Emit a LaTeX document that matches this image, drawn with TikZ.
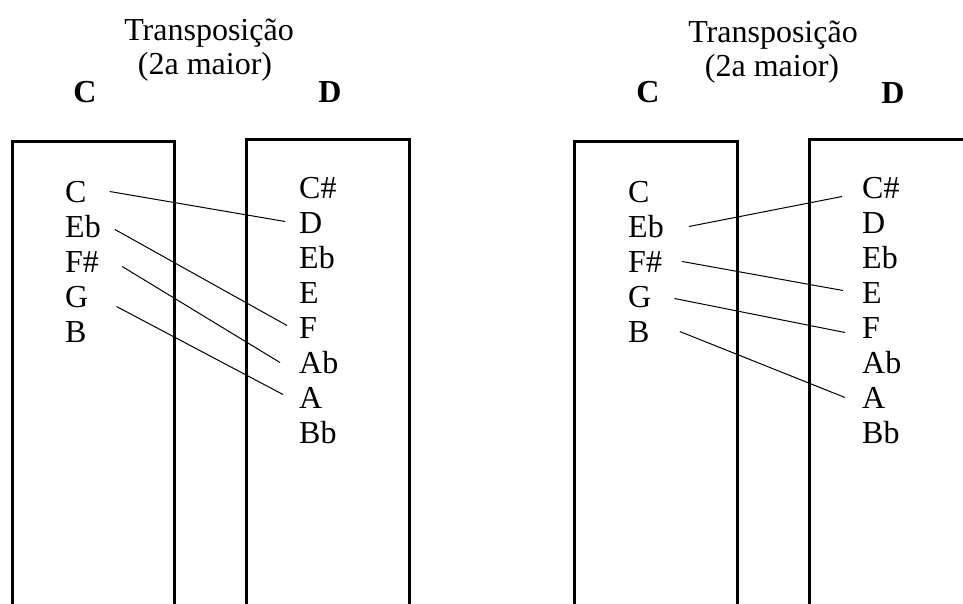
\documentclass[tikz,border=0pt]{standalone}
\usepackage{fontspec}
\setmainfont{Liberation Serif}
\begin{document}
\begin{tikzpicture}[x=1pt,y=-1pt,
  txt/.style={inner sep=0pt, font=\fontsize{32}{36}\selectfont},
  note/.style={txt, anchor=base west, text height=21pt, text depth=0pt},
  keyname/.style={inner sep=0pt, anchor=base, font=\fontsize{32}{36}\selectfont\bfseries},
  titletext/.style={txt, anchor=base},
  panel/.style={line width=3pt},
  link/.style={line width=1pt}]
\useasboundingbox (0,0) rectangle (963,603);
\clip (0,0) rectangle (963,603);

% boxes
\draw[panel] (12,141) rectangle (174.7,650);
\draw[panel] (246.7,139.3) rectangle (409.3,650);
\draw[panel] (574,141.3) rectangle (737.3,650);
\draw[panel] (809.7,139.3) rectangle (990,650);

% left panel titles
\node[titletext] (t1) at (209,40) {Transposição};
\node[titletext] (s1) at (205,74) {(2a maior)};
\node[keyname] (k1c) at (85,102) {C};
\node[keyname] (k1d) at (330,102) {D};

% right panel titles
\node[titletext] (t2) at (773,42) {Transposição};
\node[titletext] (s2) at (772,76) {(2a maior)};
\node[keyname] (k2c) at (648,102) {C};
\node[keyname] (k2d) at (893,103) {D};

% left panel notes
\node[note] (a1) at (65,202) {C};
\node[note] (a2) at (65,237) {Eb};
\node[note] (a3) at (65,272) {F\#};
\node[note] (a4) at (65,307) {G};
\node[note] (a5) at (65,342) {B};
\node[note] (b1) at (299,198) {C\#};
\node[note] (b2) at (299,233) {D};
\node[note] (b3) at (299,268) {Eb};
\node[note] (b4) at (299,303) {E};
\node[note] (b5) at (299,338) {F};
\node[note] (b6) at (299,373) {Ab};
\node[note] (b7) at (299,408) {A};
\node[note] (b8) at (299,443) {Bb};

% right panel notes
\node[note] (c1) at (628,202) {C};
\node[note] (c2) at (628,237) {Eb};
\node[note] (c3) at (628,272) {F\#};
\node[note] (c4) at (628,307) {G};
\node[note] (c5) at (628,342) {B};
\node[note] (d1) at (862,198) {C\#};
\node[note] (d2) at (862,233) {D};
\node[note] (d3) at (862,268) {Eb};
\node[note] (d4) at (862,303) {E};
\node[note] (d5) at (862,338) {F};
\node[note] (d6) at (862,373) {Ab};
\node[note] (d7) at (862,408) {A};
\node[note] (d8) at (862,443) {Bb};

% left panel links
\draw[link] ([shift={(23,0)}]a1.east) -- ([shift={(-14,-1)}]b2.west);
\draw[link] ([shift={(14,3)}]a2.east) -- ([shift={(-12,-2)}]b5.west);
\draw[link] ([shift={(23,5)}]a3.east) -- ([shift={(-19,0)}]b6.west);
\draw[link] ([shift={(28,10)}]a4.east) -- ([shift={(-16,-3)}]b7.west);

% right panel links
\draw[link] ([shift={(25,0)}]c2.east) -- ([shift={(-20,9)}]d1.west);
\draw[link] ([shift={(20,0)}]c3.east) -- ([shift={(-19,-2)}]d4.west);
\draw[link] ([shift={(23,2)}]c4.east) -- ([shift={(-17,5)}]d5.west);
\draw[link] ([shift={(30,0)}]c5.east) -- ([shift={(-17,0)}]d7.west);
\end{tikzpicture}
\end{document}
